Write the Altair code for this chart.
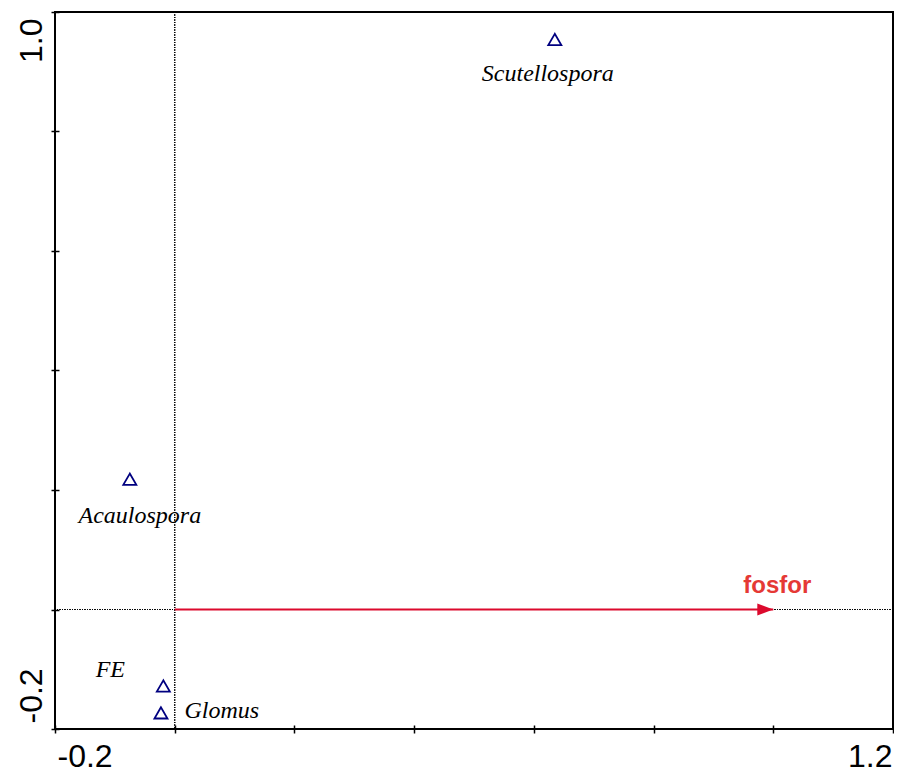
import altair as alt
import pandas as pd

# ---- data ----
species = ["Scutellospora", "Acaulospora", "FE", "Glomus"]
axis1 = [0.635, -0.075, -0.019, -0.023]
axis2 = [0.954, 0.218, -0.128, -0.173]

env_names = ["fosfor"]
env_axis1 = [1.0]
env_axis2 = [0.0]

x_ticks = [-0.2, 0.0, 0.2, 0.4, 0.6, 0.8, 1.0, 1.2]
y_ticks = [-0.2, 0.0, 0.2, 0.4, 0.6, 0.8, 1.0]
x_tick_labels = {-0.2: "-0.2", 1.2: "1.2"}
y_tick_labels = {-0.2: "-0.2", 1.0: "1.0"}

# ---- label placement (style, pixel offsets) ----
label_style = {
    "Scutellospora": (-7, 41.5, "center"),
    "Acaulospora": (10, 43.7, "center"),
    "FE": (-53, -9.3, "center"),
    "Glomus": (23.5, 5, "left"),
}


def label_expr(mapping):
    parts = [f"abs(datum.value - ({v})) < 1e-6 ? '{t}'" for v, t in mapping.items()]
    return " : ".join(parts) + " : ''"


sp = pd.DataFrame({"name": species, "ax1": axis1, "ax2": axis2})
env = pd.DataFrame({"name": env_names, "ax1": env_axis1, "ax2": env_axis2,
                    "ox": [0.0] * len(env_names), "oy": [0.0] * len(env_names)})

xscale = alt.Scale(domain=[-0.2, 1.2], nice=False, zero=False)
yscale = alt.Scale(domain=[-0.2, 1.0], nice=False, zero=False)

x_axis = alt.Axis(
    values=x_ticks, labelExpr=label_expr(x_tick_labels), title=None,
    domain=False, grid=False, ticks=True, tickSize=8, tickWidth=1.5, tickColor="black",
    offset=-4, labelFont="Liberation Sans", labelFontSize=32, labelColor="black",
    labelAngle=0, labelBaseline="alphabetic", labelPadding=33, labelFlush=False,
    labelAlign={"condition": {"test": "datum.value < 0.5", "value": "left"}, "value": "right"},
    labelOffset={"condition": {"test": "datum.value < 0.5", "value": 2}, "value": -1},
    labelOverlap=False,
)
y_axis = alt.Axis(
    values=y_ticks, labelExpr=label_expr(y_tick_labels), title=None,
    domain=False, grid=False, ticks=True, tickSize=8, tickWidth=1.5, tickColor="black",
    offset=-4, labelFont="Liberation Sans", labelFontSize=32, labelColor="black",
    labelAngle=270, labelBaseline="alphabetic", labelPadding=10, labelFlush=False,
    labelAlign={"condition": {"test": "datum.value > 0.5", "value": "right"}, "value": "left"},
    labelOffset={"condition": {"test": "datum.value > 0.5", "value": 6}, "value": -6},
    labelOverlap=False,
)

vline = alt.Chart(sp).mark_rule(color="black", strokeWidth=1, strokeDash=[1, 1.5]).encode(
    x=alt.datum(0, scale=xscale, axis=x_axis)
)
hline = alt.Chart(sp).mark_rule(color="black", strokeWidth=1, strokeDash=[1, 1.5]).encode(
    y=alt.datum(0, scale=yscale, axis=y_axis)
)

arrow_line = alt.Chart(env).mark_rule(color="#DC0A2D", strokeWidth=2).encode(
    x=alt.X("ox:Q", scale=xscale, axis=x_axis), x2="ax1:Q",
    y=alt.Y("oy:Q", scale=yscale, axis=y_axis), y2="ax2:Q",
)
arrow_head = alt.Chart(env).mark_point(
    shape="M0,0 L-1,-0.375 L-1,0.375 Z", filled=True, color="#DC0A2D", size=1024, opacity=1
).encode(
    x=alt.X("ax1:Q", scale=xscale, axis=x_axis),
    y=alt.Y("ax2:Q", scale=yscale, axis=y_axis),
)

points = alt.Chart(sp).mark_point(
    shape="triangle-up", filled=False, color="#000080", size=170, strokeWidth=1.8, opacity=1
).encode(
    x=alt.X("ax1:Q", scale=xscale, axis=x_axis),
    y=alt.Y("ax2:Q", scale=yscale, axis=y_axis),
)

env_label = alt.Chart(env).mark_text(
    font="Liberation Sans", fontWeight="bold", fontSize=24, color="#E53935",
    align="center", baseline="alphabetic", dx=4, dy=-16.5
).encode(
    x=alt.X("ax1:Q", scale=xscale, axis=x_axis),
    y=alt.Y("ax2:Q", scale=yscale, axis=y_axis),
    text="name:N",
)

text_layers = []
for name, (dx, dy, align) in label_style.items():
    text_layers.append(
        alt.Chart(sp).transform_filter(alt.datum.name == name).mark_text(
            font="Liberation Serif", fontStyle="italic", fontSize=24, color="black",
            align=align, baseline="alphabetic", dx=dx, dy=dy
        ).encode(
            x=alt.X("ax1:Q", scale=xscale, axis=x_axis),
            y=alt.Y("ax2:Q", scale=yscale, axis=y_axis),
            text="name:N",
        )
    )

chart = alt.layer(
    points, vline, hline, arrow_line, arrow_head, env_label, *text_layers
).properties(
    width=838, height=717,
    autosize=alt.AutoSizeParams(type="none"),
    padding={"left": 47, "top": 4, "right": 1, "bottom": 46},
    background="white",
).configure_view(stroke="black", strokeWidth=2)

chart.save("out.html", embed_options={"renderer": "svg", "actions": False})
